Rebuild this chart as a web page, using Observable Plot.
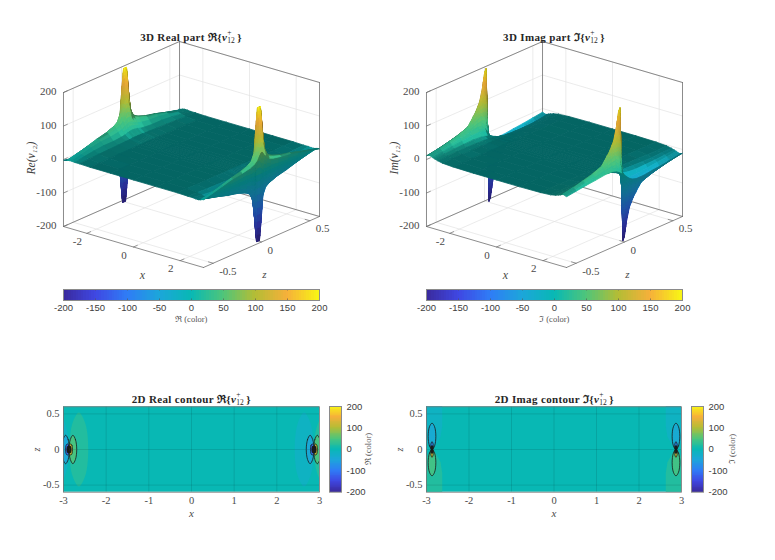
<!DOCTYPE html>
<html><head><meta charset="utf-8">
<script src="https://cdn.jsdelivr.net/npm/d3@7"></script>
<script src="https://cdn.jsdelivr.net/npm/@observablehq/plot@0.6"></script>
<style>
html,body{margin:0;padding:0;background:#fff}
#page{position:relative;width:775px;height:560px;overflow:hidden}
#page>div,#page>svg,#page>figure{position:absolute;margin:0}
.title{font:bold 11px "Liberation Serif",serif;color:#262626;letter-spacing:.35px;white-space:nowrap;transform:translateX(-50%)}
.title .st{display:inline-block;position:relative;width:10px;height:10px}
.title .st b{position:absolute;left:0;font-size:7.5px;font-weight:normal;line-height:7px;letter-spacing:0}
.lab{font:italic 11.5px "Liberation Serif",serif;color:#404040;white-space:nowrap;transform:translate(-50%,-50%) rotate(-90deg)}
.cap{font:8.5px "Liberation Serif",serif;color:#555;white-space:nowrap}
</style></head><body><div id="page"></div>
<script>
// ---------- data ----------
const colorDomain=[-200,-150,-100,-50,0,50,100,150,200];
const colorRange=["#3a2a9c","#3f47e2","#2f7cf6","#1ca6da","#08b8b4","#4fc57a","#b4bd35","#f6b03a","#f8f615"];
const gridX=[-3,-2.96,-2.92,-2.89,-2.87,-2.85,-2.82,-2.78,-2.73,-2.65,-2.52,-2.32,-1.87,-1,0];
const gridZ=[0,.015,.03,.05,.08,.12,.2,.3,.4,.5,.6];
const realTable=[
[-70,-110,-200,-200,0,200,200,110,70,42,22,8,1,0,0],
[-68,-105,-170,-200,0,200,170,105,68,42,22,8,1,0,0],
[-60,-85,-120,-150,0,150,120,85,60,38,21,8,1,0,0],
[-48,-60,-70,-70,0,70,70,60,48,35,20,8,1,0,0],
[-40,-46,-50,-48,0,48,50,46,40,30,17,7,1,0,0],
[-35,-40,-42,-40,0,40,42,40,35,27,15,7,1,0,0],
[-30,-32,-33,-30,0,30,33,32,30,23,13,6,1,0,0],
[-26,-27,-26,-22,0,22,26,27,26,21,13,5,1,0,0],
[-18,-18,-17,-14,0,14,17,18,18,16,10,4,1,0,0],
[-10,-10,-9,-7,0,7,9,10,10,9,6,3,0,0,0],
[-2,-2,-1,-1,0,1,1,2,2,2,1,1,0,0,0]];
const imagTable=[
[0,0,0,0,0,0,0,0,0,0,0,0,0,0,0],
[-5,-10,-25,-90,-200,-90,-25,-10,-5,-2,-1,0,0,0,0],
[-10,-18,-45,-120,-190,-120,-45,-18,-10,-4,-2,-1,0,0,0],
[-16,-28,-60,-115,-150,-115,-60,-28,-16,-7,-3,-1,0,0,0],
[-22,-38,-65,-95,-110,-95,-65,-38,-22,-10,-5,-2,0,0,0],
[-26,-40,-60,-78,-85,-78,-60,-40,-26,-13,-6,-2,0,0,0],
[-26,-36,-44,-48,-50,-48,-44,-36,-26,-15,-7,-3,0,0,0],
[-22,-29,-34,-37,-38,-37,-34,-29,-22,-14,-8,-3,0,0,0],
[-19,-24,-27,-29,-30,-29,-27,-24,-19,-13,-8,-4,-1,0,0],
[-15,-18,-20,-21,-22,-21,-20,-18,-15,-11,-7,-4,-1,0,0],
[-11,-13,-14,-15,-15,-15,-14,-13,-11,-9,-6,-3,-1,0,0]];
const xTicks3D=[-2,0,2], zTicks3D=[-.5,0,.5], vTicks=[-200,-100,0,100,200];
const xLim=[-3,3], zLim=[-.6,.6], vLim=[-200,200];
const xTicks2D=[-3,-2,-1,0,1,2,3], zTicks2D=[-.5,0,.5];
const barTicksH=[-200,-150,-100,-50,0,50,100,150,200], barTicksV=[-200,-100,0,100,200];
const bgLevel=0;
// 2D filled contour outlines near the left pole: [level, black line weight, points (x,z)]
const realOvals=[
[18,0,[[-2.42,0],[-2.49,.37],[-2.64,.52],[-2.79,.37],[-2.86,0],[-2.79,-.37],[-2.64,-.52],[-2.49,-.37]]],
[-18,0,[[-2.87,0],[-2.91,.25],[-3.02,.42],[-3.15,.3],[-3.15,-.3],[-3.02,-.42],[-2.91,-.25]]],
[-45,.8,[[-2.87,0],[-2.89,.14],[-2.95,.2],[-3.01,.14],[-3.04,0],[-3.01,-.14],[-2.95,-.2],[-2.89,-.14]]],
[45,.8,[[-2.69,0],[-2.72,.14],[-2.78,.2],[-2.84,.14],[-2.87,0],[-2.84,-.14],[-2.78,-.2],[-2.72,-.14]]],
[-110,.8,[[-2.87,0],[-2.88,.056],[-2.91,.08],[-2.94,.056],[-2.95,0],[-2.94,-.056],[-2.91,-.08],[-2.88,-.056]]],
[110,.8,[[-2.79,0],[-2.8,.056],[-2.83,.08],[-2.86,.056],[-2.87,0],[-2.86,-.056],[-2.83,-.08],[-2.8,-.056]]],
[-190,1.6,[[-2.87,0],[-2.875,.03],[-2.89,.04],[-2.905,.03],[-2.91,0],[-2.905,-.03],[-2.89,-.04],[-2.875,-.03]]],
[190,1.6,[[-2.83,0],[-2.835,.03],[-2.85,.04],[-2.865,.03],[-2.87,0],[-2.865,-.03],[-2.85,-.04],[-2.835,-.03]]]];
const imagPolys=[
[-18,0,[[-3.05,.65],[-2.63,.65],[-2.63,.33],[-2.67,.18],[-2.78,.06],[-2.87,0],[-2.96,.06],[-3.05,.2]]],
[18,0,[[-3.05,-.65],[-2.63,-.65],[-2.63,-.33],[-2.67,-.18],[-2.78,-.06],[-2.87,0],[-2.96,-.06],[-3.05,-.2]]]];
const imagOvals=[
[-40,.8,[[-2.87,0],[-2.93,.05],[-2.96,.185],[-2.93,.32],[-2.87,.37],[-2.81,.32],[-2.78,.185],[-2.81,.05]]],
[40,.8,[[-2.87,0],[-2.93,-.05],[-2.96,-.185],[-2.93,-.32],[-2.87,-.37],[-2.81,-.32],[-2.78,-.185],[-2.81,-.05]]],
[-90,.8,[[-2.87,0],[-2.89,.02],[-2.9,.055],[-2.89,.09],[-2.87,.11],[-2.85,.09],[-2.84,.055],[-2.85,.02]]],
[110,.8,[[-2.87,0],[-2.89,-.02],[-2.9,-.055],[-2.89,-.09],[-2.87,-.11],[-2.85,-.09],[-2.84,-.055],[-2.85,-.02]]],
[-190,1.6,[[-2.87,0],[-2.885,.01],[-2.89,.025],[-2.885,.04],[-2.87,.05],[-2.855,.04],[-2.85,.025],[-2.855,.01]]],
[190,1.6,[[-2.87,0],[-2.885,-.01],[-2.89,-.025],[-2.885,-.04],[-2.87,-.05],[-2.855,-.04],[-2.85,-.025],[-2.855,-.01]]]];

// ---------- helpers ----------
const page=document.getElementById("page");
const serif="Liberation Serif", sans="Liberation Sans", tickInk="#4a4a4a";
const colorOpt={type:"linear",domain:colorDomain,range:colorRange,clamp:true};
const cs=Plot.scale({color:colorOpt});
const place=(el,l,t)=>{el.style.left=l+"px";el.style.top=t+"px";page.appendChild(el);return el;};
const html=(cls,content,l,t)=>{const d=document.createElement("div");d.className=cls;d.innerHTML=content;return place(d,l,t);};
const titleOf=(txt,sym)=>`${txt} ${sym}{<i>v</i><span class="st"><b style="top:-2px">+</b><b style="top:6px">12</b></span>}`;
// oblique view of the axes box
const view={ux:23.33,uz:96.7,wx:6.83,wz:-42.5,wv:-.335};
const U=(x,z)=>x*view.ux+z*view.uz, W=(x,z,v)=>x*view.wx+z*view.wz+v*view.wv;
const pt=(x,z,v,id)=>({u:U(x,z),w:W(x,z,v),id});

function fullGrid(table,sx,sz){ // symmetry of the field: sx, sz = sign on mirroring in x, z
  const xs=[...gridX,...gridX.slice(0,-1).reverse().map(d=>-d)];
  const zs=[...gridZ.slice(1).reverse(),...gridZ.map(d=>-d)]; // +0.6 .. -0.6 (back to front)
  const n=gridX.length,m=gridZ.length;
  const val=(i,j)=>{
    const fi=i<n?i:2*n-2-i, fj=j<m-1?m-1-j:j-(m-1);
    let v=table[fj][fi];
    if(i>=n)v*=sx; if(j>=m)v*=sz;
    return v;
  };
  return {xs,zs,val};
}
function facets({xs,zs,val}){
  const out=[];let id=0;
  for(let i=0;i<xs.length-1;i++)for(let j=0;j<zs.length-1;j++){
    const a=val(i,j),b=val(i+1,j),c=val(i+1,j+1),d=val(i,j+1);
    const ni=Math.min(10,Math.max(1,Math.ceil(Math.max(Math.abs(b-a),Math.abs(c-d))/14)));
    const nj=Math.min(10,Math.max(1,Math.ceil(Math.max(Math.abs(d-a),Math.abs(c-b))/14)));
    const X=p=>xs[i]+(xs[i+1]-xs[i])*p/ni, Z=q=>zs[j]+(zs[j+1]-zs[j])*q/nj;
    const V=(p,q)=>{const s=p/ni,t=q/nj;return Math.max(-200,Math.min(200,a*(1-s)*(1-t)+b*s*(1-t)+c*s*t+d*(1-s)*t));};
    for(let p=0;p<ni;p++)for(let q=0;q<nj;q++){
      const v0=V(p,q),v1=V(p+1,q),v2=V(p+1,q+1),v3=V(p,q+1),m=(v0+v1+v2+v3)/4;
      const vx=((v1-v0+v2-v3)/2)/(X(p+1)-X(p))*.00225;
      const vz=((v3-v0+v2-v1)/2)/(Z(q+1)-Z(q))*.0021;
      const st=Math.hypot(vx,vz), facing=-vx*.6+vz*.4;
      let k=.55+(facing>=0?.45:.12)*Math.min(1,st/.25);
      if(st>3)k=Math.min(k,Math.max(.8,1-(st-3)*.02));
      const col=d3.rgb(cs.apply(m));
      const fill=`rgb(${Math.min(255,col.r*k)|0},${Math.min(255,col.g*k)|0},${Math.min(255,col.b*k)|0})`;
      id++;
      [[p,q,v0],[p+1,q,v1],[p+1,q+1,v2],[p,q+1,v3],[p,q,v0]].forEach(([a1,b1,v])=>{
        const e=pt(X(a1),Z(b1),v,id);e.fill=fill;out.push(e);});
    }
  }
  return out;
}
function seg(list,rows){let id=0;for(const r of rows){id++;list.push(pt(r[0],r[1],r[2],id),pt(r[3],r[4],r[5],id));}return list;}

function panel3D(left,table,sx,sz,title,sym,vlabel){
  const [x0,x1]=xLim,[z0,z1]=zLim,[v0,v1]=vLim;
  const grid=[];
  for(const t of xTicks3D){grid.push([t,z0,v0,t,z1,v0],[t,z1,v0,t,z1,v1]);}
  for(const t of zTicks3D){grid.push([x0,t,v0,x1,t,v0],[x0,t,v0,x0,t,v1]);}
  for(const t of vTicks){grid.push([x0,z0,t,x0,z1,t],[x0,z1,t,x1,z1,t]);}
  const box=[[x0,z0,v1,x0,z1,v1],[x0,z1,v1,x1,z1,v1],[x0,z0,v0,x0,z0,v1],[x1,z1,v0,x1,z1,v1],[x0,z1,v0,x0,z1,v1],
    [x0,z0,v0,x1,z0,v0],[x1,z0,v0,x1,z1,v0],[x0,z0,v0,x0,z1,v0],[x0,z1,v0,x1,z1,v0]];
  const ticks=[];
  for(const t of xTicks3D)ticks.push([t,z0,v0,t,z0+.04,v0]);
  for(const t of zTicks3D)ticks.push([x1,t,v0,x1-.2,t,v0]);
  for(const t of vTicks)ticks.push([x0,z0,t,x0,z0+.04,t]);
  const surf=facets(fullGrid(table,sx,sz));
  const txt={fontFamily:serif,fontSize:11,fill:tickInk};
  const plot=Plot.plot({width:372,height:290,margin:0,
    x:{domain:[-191,181],range:[0,372],axis:null},y:{domain:[-154,136],range:[0,290],axis:null},
    style:{background:"transparent"},
    marks:[
      Plot.line(seg([],grid),{x:"u",y:"w",z:"id",stroke:"#e2e2e2",strokeWidth:.7}),
      Plot.line(seg([],box),{x:"u",y:"w",z:"id",stroke:"#6f6f6f",strokeWidth:.8}),
      Plot.line(seg([],ticks),{x:"u",y:"w",z:"id",stroke:"#6f6f6f",strokeWidth:.7}),
      Plot.line(surf,{x:"u",y:"w",z:"id",fill:{value:"fill",scale:null},stroke:{value:"fill",scale:null},strokeWidth:.8}),
      Plot.text(vTicks,{x:()=>U(x0,z0),y:d=>W(x0,z0,d),dx:-7,dy:-1,text:d=>String(d),textAnchor:"end",...txt}),
      Plot.text(xTicks3D,{x:d=>U(d,z0),y:d=>W(d,z0,v0),dx:-9.5,dy:8,text:d=>String(d),...txt}),
      Plot.text(zTicks3D,{x:d=>U(x1,d),y:d=>W(x1,d,v0),dx:6,dy:8,text:d=>String(d),textAnchor:"start",...txt}),
      Plot.text(["x"],{x:()=>U(0,z0)+9,y:()=>W(0,z0,v0)+28,text:d=>d,fontFamily:serif,fontStyle:"italic",fontSize:12,fill:tickInk}),
      Plot.text(["z"],{x:()=>U(x1,0)+3,y:()=>W(x1,0,v0)+32,text:d=>d,fontFamily:serif,fontStyle:"italic",fontSize:11,fill:tickInk})
    ]});
  place(plot,left,0);
  html("title",titleOf(title,sym),left+191,29);
  html("lab",vlabel,left+31,158);
}
function barH(left,sym){
  const vals=d3.range(-200,200,4);
  const p=Plot.plot({width:276,height:36,marginLeft:10,marginRight:10,marginTop:1,marginBottom:24,
    x:{domain:[-200,200],axis:null},y:{domain:[0,1],axis:null},color:colorOpt,style:{background:"transparent"},
    marks:[
      Plot.rect(vals,{x1:d=>d,x2:d=>d+4,y1:0,y2:1,fill:d=>d+2,shapeRendering:"crispEdges"}),
      Plot.ruleX(barTicksH,{y1:0,y2:.14,stroke:"#555",strokeWidth:.6}),
      Plot.ruleX(barTicksH,{y1:.86,y2:1,stroke:"#555",strokeWidth:.6}),
      Plot.frame({stroke:"#8a8a8a",strokeWidth:1}),
      Plot.text(barTicksH,{x:d=>d,y:0,dy:7.5,text:d=>String(d),fontFamily:sans,fontSize:9.5,fill:"#404040"})
    ]});
  place(p,left-10,288);
  const c=html("cap",sym+" (color)",left+128,313);c.style.transform="translateX(-50%)";
}
function barV(left,sym,labX){
  const vals=d3.range(-200,200,4);
  const p=Plot.plot({width:44,height:100,marginLeft:1,marginRight:31,marginTop:7,marginBottom:7.3,
    x:{domain:[0,1],axis:null},y:{domain:[-200,200],axis:null},color:colorOpt,style:{background:"transparent"},
    marks:[
      Plot.rect(vals,{y1:d=>d,y2:d=>d+4,x1:0,x2:1,fill:d=>d+2,shapeRendering:"crispEdges"}),
      Plot.frame({stroke:"#8a8a8a",strokeWidth:1}),
      Plot.text(barTicksV,{x:1,y:d=>d,dx:5,text:d=>String(d),textAnchor:"start",fontFamily:sans,fontSize:9.5,fill:"#404040"})
    ]});
  place(p,left-1,399);
  const c=html("cap",sym+" (color)",labX,448.5);c.style.transform="translate(-50%,-50%) rotate(-90deg)";
}
const outline=(list)=>{let id=0;const o=[];for(const [level,line,pts] of list){id++;for(const [x,z] of pts)o.push({x,z,level,line,id});}return o;};
function panel2D(left,polys,ovals,title,sym,zLabX,barLeft,barLabX){
  const frameW=left===63.3?256:255;
  const p=Plot.plot({width:frameW+44,height:140,marginLeft:34,marginRight:10,marginTop:21.3,marginBottom:33.3,
    x:{domain:xLim,axis:null},y:{domain:zLim,axis:null},color:colorOpt,style:{background:"transparent",overflow:"visible"},
    marks:[
      Plot.rect([bgLevel],{x1:xLim[0],x2:xLim[1],y1:zLim[0],y2:zLim[1],fill:d=>d}),
      Plot.line(outline(polys),{x:"x",y:"z",z:"id",fill:"level",stroke:null,clip:true}),
      Plot.line(outline(ovals).filter(d=>!d.line),{x:"x",y:"z",z:"id",fill:"level",stroke:null,curve:"catmull-rom-closed",clip:true}),
      Plot.line(outline(ovals).filter(d=>d.line),{x:"x",y:"z",z:"id",fill:"level",stroke:"#1a1a1a",strokeWidth:"line",curve:"catmull-rom-closed",clip:true}),
      Plot.ruleX(xTicks2D,{stroke:"#000",strokeOpacity:.18,strokeWidth:.6}),
      Plot.ruleY(zTicks2D,{stroke:"#000",strokeOpacity:.18,strokeWidth:.6}),
      Plot.frame({stroke:"#777",strokeWidth:.8}),
      Plot.text(xTicks2D,{x:d=>d,y:zLim[0],dy:8.5,text:d=>String(d),fontFamily:serif,fontSize:10.5,fill:tickInk}),
      Plot.text(zTicks2D,{x:xLim[0],y:d=>d,dx:-4,text:d=>String(d),textAnchor:"end",fontFamily:serif,fontSize:10.5,fill:tickInk}),
      Plot.text(["x"],{x:0,y:zLim[0],dy:21,text:d=>d,fontFamily:serif,fontStyle:"italic",fontSize:11,fill:tickInk}),
      Plot.text(["z"],{x:xLim[0],y:0,dx:zLabX,text:d=>d,rotate:-90,fontFamily:serif,fontStyle:"italic",fontSize:10,fill:tickInk})
    ]});
  place(p,left-34,385);
  html("title",titleOf(title,sym),left+128,391);
  barV(barLeft,sym,barLabX);
}
const flipReal=l=>l.map(([lv,ln,pts])=>[-lv,ln,pts.map(([x,z])=>[-x,z])]);
const flipImag=l=>l.map(([lv,ln,pts])=>[lv,ln,pts.map(([x,z])=>[-x,z])]);

panel3D(0,realTable,-1,1,"3D Real part","ℜ","Re(v₁₂)");
panel3D(363,imagTable,1,-1,"3D Imag part","ℑ","Im(v₁₂)");
barH(63.3,"ℜ");
barH(426.3,"ℑ");
panel2D(63.3,[],[...realOvals,...flipReal(realOvals)],"2D Real contour","ℜ",-26.6,329,367);
panel2D(426.3,[...imagPolys,...flipImag(imagPolys)],[...imagOvals,...flipImag(imagOvals)],"2D Imag contour","ℑ",-27,691.3,731);
</script></body></html>
